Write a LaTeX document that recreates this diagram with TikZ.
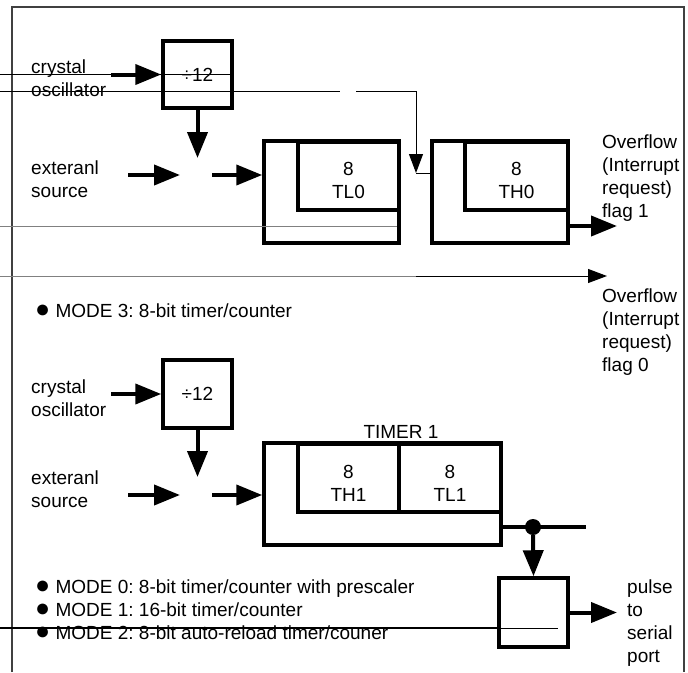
\documentclass[tikz,border=0pt]{standalone}
\usepackage{fontspec}
\setmainfont{Liberation Sans}
\usetikzlibrary{arrows.meta}
\frenchspacing
\newcommand{\modedot}{{\fontsize{25}{23}\selectfont ●}}
\newcommand{\regtext}[2]{\rule{0pt}{23pt}#1\\#2}
\tikzset{
  regbox/.style={draw, line width=3.5pt, inner sep=0pt, align=center},
  fatarrow/.style={line width=4pt, -{Triangle[length=26pt,width=20pt]}},
  fatline/.style={line width=4pt},
  wire/.style={line width=1pt},
  wirearrow/.style={line width=1pt, -{Triangle[length=19pt,width=14pt]}},
  sidetext/.style={align=left, anchor=west, inner sep=0pt},
}
\begin{document}
\begin{tikzpicture}[x=1pt, y=-1pt, font=\fontsize{19}{23}\selectfont]
            \useasboundingbox (0,0) rectangle (688,672);
            % Frame
            \draw[line width=2pt, black!75] (12,672) -- (12,7) -- (684,7) -- (684,672);

            % Upper part: mode 3
            \begin{scope}
                \node[regbox, minimum width=69pt, minimum height=67pt] (divtop) at (197.5,74.5) {÷12};
                \node[regbox, minimum width=135pt, minimum height=102pt] (tlzero) at (331.5,192) {};
                \node[regbox, minimum width=101pt, minimum height=68pt] (tlzeroin) at (348.5,176) {\regtext{8}{TL0}};
                \node[regbox, minimum width=136pt, minimum height=102pt] (thzero) at (500,192) {};
                \node[regbox, minimum width=103pt, minimum height=68pt] (thzeroin) at (516.5,176) {\regtext{8}{TH0}};
                \node[sidetext] (xtaltop) at (31,78.5) {crystal\\oscillator};
                \node[sidetext] (exttop) at (31,179) {exteranl\\source};
                \node[sidetext] (flagone) at (602,178) {Overflow\\(Interrupt\\request)\\flag 1};
                \node[sidetext] (flagzero) at (602,332) {Overflow\\(Interrupt\\request)\\flag 0};
                \node[sidetext] (modethree) at (35,311) {\modedot\ MODE 3: 8-bit timer/counter};
                \coordinate (xtalA) at (111,74.5);
                \coordinate (jctA) at (197.5,158);
                \coordinate (extA) at (128,175);
                \coordinate (extB) at (180,175);
                \coordinate (swA) at (212,175);
                \coordinate (ofA) at (617,226);
                \coordinate (wA) at (0,91);
                \coordinate (wB) at (340,91);
                \coordinate (wC) at (356,91);
                \coordinate (wD) at (416,173);
                \coordinate (wE) at (0,276);
                \coordinate (wF) at (416,276);
                \coordinate (wG) at (607,276);
                \draw[fatarrow] (xtalA) -- (divtop.west);
                \draw[fatarrow] (divtop.south) -- (jctA);
                \draw[fatarrow] (extA) -- (extB);
                \draw[fatarrow] (swA) -- (swA -| tlzero.west);
                \draw[fatarrow] (ofA -| thzero.east) -- (ofA);
                \draw[wire] (0,74.5) -- (divtop.east);
                \draw[wire] (wA) -- (wB);
                \draw[wirearrow] (wC) -| (wD);
                \draw[wire] (wD) -- (wD -| thzero.west);
                \draw[wire, gray] (0,226) -- (397,226);
                \draw[wire, gray] (wE) -- (wF);
                \draw[wirearrow] (wF) -- (wG);
            \end{scope}

            % Lower part: modes 0, 1 and 2
            \begin{scope}
                \node[regbox, minimum width=69pt, minimum height=68pt] (divbot) at (197.5,394) {÷12};
                \node[regbox, minimum width=237pt, minimum height=102pt] (timone) at (382.5,494) {};
                \node[regbox, minimum width=101pt, minimum height=68pt] (thone) at (348.5,478) {\regtext{8}{TH1}};
                \node[regbox, minimum width=102pt, minimum height=68pt] (tlone) at (450,478) {\regtext{8}{TL1}};
                \node[regbox, minimum width=69pt, minimum height=69pt] (sbox) at (533.5,612.5) {};
                \node[circle, fill=black, inner sep=0pt, minimum size=16pt] (dot) at (533,527) {};
                \node[inner sep=0pt] (timlabel) at (401,432) {TIMER 1};
                \node[sidetext] (xtalbot) at (31,398) {crystal\\oscillator};
                \node[sidetext] (extbot) at (31,489) {exteranl\\source};
                \node[sidetext] (pulse) at (627,623) {pulse\\to\\serial\\port};
                \node[sidetext, text depth=0pt] (modes) at (35,610) {\modedot\ MODE 0: 8-bit timer/counter with prescaler\\\modedot\ MODE 1: 16-bit timer/counter\\\modedot\ MODE 2: 8-bit auto-reload timer/couner};
                \coordinate (xtalB) at (111,394);
                \coordinate (jctB) at (197.5,477);
                \coordinate (extC) at (128,495);
                \coordinate (extD) at (180,495);
                \coordinate (swB) at (212,495);
                \coordinate (tapA) at (501,527);
                \coordinate (tapB) at (586,527);
                \coordinate (ofB) at (617,612.5);
                \coordinate (sA) at (0,628);
                \coordinate (sB) at (500,628);
                \coordinate (sC) at (558,628);
                \draw[fatarrow] (xtalB) -- (divbot.west);
                \draw[fatarrow] (divbot.south) -- (jctB);
                \draw[fatarrow] (extC) -- (extD);
                \draw[fatarrow] (swB) -- (swB -| timone.west);
                \draw[fatline] (tapA) -- (tapB);
                \draw[fatarrow] (dot) -- (sbox.north);
                \draw[fatarrow] (sbox.east) -- (ofB);
                \draw[line width=2.5pt] (sA) -- (sB);
                \draw[wire] (sB) -- (sC);
            \end{scope}
        \end{tikzpicture}
\end{document}
